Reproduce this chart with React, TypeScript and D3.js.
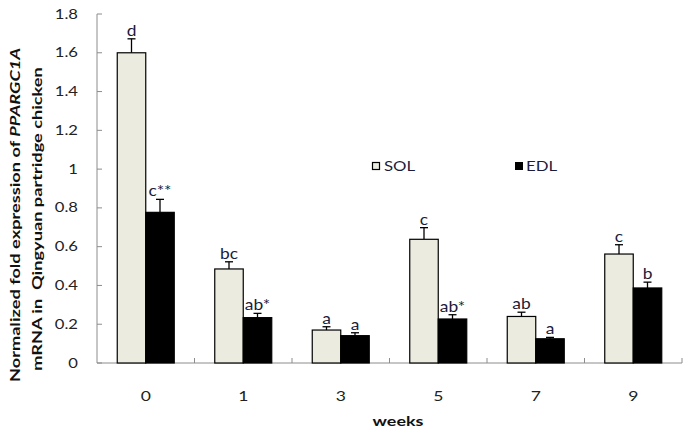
import React from "react";
import * as d3 from "d3";

const weeks = ["0", "1", "3", "5", "7", "9"];
const solValues = [1.6, 0.485, 0.17, 0.638, 0.24, 0.562];
const solErrors = [0.072, 0.037, 0.017, 0.06, 0.022, 0.048];
const edlValues = [0.777, 0.234, 0.141, 0.227, 0.125, 0.387];
const edlErrors = [0.067, 0.022, 0.015, 0.022, 0.007, 0.03];
const solLabels = ["d", "bc", "a", "c", "ab", "c"];
const edlLabels = ["c**", "ab*", "a", "ab*", "a", "b"];
const yTicks = [0, 0.2, 0.4, 0.6, 0.8, 1, 1.2, 1.4, 1.6, 1.8];

const W = 694, H = 435;
const left = 97, right = 682, top = 14, bottom = 363;
const FONT = "Lato, 'Open Sans', sans-serif";

function T(props: {
  x: number; y: number; sx?: number; rot?: number; size: number; anchor?: string;
  weight?: string; fill?: string; dy?: string; children: React.ReactNode;
}) {
  const { x, y, sx = 1.2, rot = 0, size, anchor = "start", weight = "normal", fill = "#222", dy, children } = props;
  return (
    <text
      transform={`translate(${x},${y}) rotate(${rot}) scale(${sx},1)`}
      textAnchor={anchor}
      fontFamily={FONT}
      fontSize={size}
      fontWeight={weight}
      fill={fill}
      dy={dy}
      style={{ whiteSpace: "pre" }}
    >
      {children}
    </text>
  );
}

export default function App() {
  const x = d3.scaleBand<string>().domain(weeks).range([left, right]).paddingInner(0).paddingOuter(0);
  const y = d3.scaleLinear().domain([0, 1.8]).range([bottom, top]);
  const bw = 28.5;
  const series = [
    { name: "SOL", values: solValues, errors: solErrors, labels: solLabels, fill: "#ecebe0", off: -bw },
    { name: "EDL", values: edlValues, errors: edlErrors, labels: edlLabels, fill: "#000", off: 0 },
  ];
  const axisColor = "#8c8c8c";
  const textColor = "#1c1c3a";
  return (
    <svg width={W} height={H} style={{ position: "absolute", left: 0, top: 0, background: "#fff" }}>
      {/* y axis */}
      <line x1={left} x2={left} y1={top} y2={bottom} stroke={axisColor} strokeWidth={1} />
      {yTicks.map((t) => (
        <g key={t}>
          <line x1={left} x2={left + 5} y1={y(t)} y2={y(t)} stroke={axisColor} />
          <T x={78} y={y(t)} dy="0.36em" anchor="end" size={12.5} sx={1.33}>
            {d3.format("~g")(t)}
          </T>
        </g>
      ))}
      {/* x axis */}
      <line x1={left} x2={right} y1={bottom} y2={bottom} stroke={axisColor} />
      {weeks.map((w, i) => (
        <line key={"t" + i} x1={(x(w) as number) + x.bandwidth()} x2={(x(w) as number) + x.bandwidth()} y1={bottom} y2={bottom - 5} stroke={axisColor} />
      ))}
      {weeks.map((w) => (
        <T key={"xl" + w} x={(x(w) as number) + x.bandwidth() / 2} y={396} dy="0.36em" anchor="middle" size={13.5} sx={1.3}>
          {w}
        </T>
      ))}
      {/* bars */}
      {series.map((s) =>
        weeks.map((w, i) => {
          const cx = (x(w) as number) + x.bandwidth() / 2 + s.off;
          const mid = cx + bw / 2;
          const yv = y(s.values[i]);
          const ye = y(s.values[i] + s.errors[i]);
          return (
            <g key={s.name + w}>
              <line x1={mid} x2={mid} y1={yv} y2={ye} stroke="#000" strokeWidth={1.3} />
              <line x1={mid - 4} x2={mid + 4} y1={ye} y2={ye} stroke="#000" strokeWidth={1.3} />
              <rect x={cx} y={yv} width={bw} height={bottom - yv} fill={s.fill} stroke="#000" strokeWidth={1.2} />
              <T x={mid} y={ye - 3} anchor="middle" size={14.5} sx={1.2} fill={textColor}>
                {s.labels[i]}
              </T>
            </g>
          );
        })
      )}
      {/* legend */}
      <rect x={372.5} y={162.5} width={7} height={7} fill="#ecebe0" stroke="#000" strokeWidth={1.2} />
      <T x={384} y={166} dy="0.36em" size={14} sx={1.2} fill={textColor}>SOL</T>
      <rect x={515} y={162} width={8} height={8} fill="#000" />
      <T x={526} y={166} dy="0.36em" size={14} sx={1.2} fill={textColor}>EDL</T>
      {/* axis titles */}
      <T x={398} y={421} dy="0.36em" anchor="middle" size={13.5} sx={1.33} weight="bold" fill="#111">weeks</T>
      <text transform="translate(20,215) rotate(-90) scale(1.3,1)" textAnchor="middle" fontFamily={FONT} fontSize={14} fontWeight="bold" fill="#111">
        Normalized fold expression of <tspan fontStyle="italic">PPARGC1A</tspan>
      </text>
      <text transform="translate(42,219) rotate(-90) scale(1.3,1)" textAnchor="middle" fontFamily={FONT} fontSize={14} fontWeight="bold" fill="#111" style={{ whiteSpace: "pre" }}>
        {"mRNA in  Qingyuan partridge chicken"}
      </text>
    </svg>
  );
}
